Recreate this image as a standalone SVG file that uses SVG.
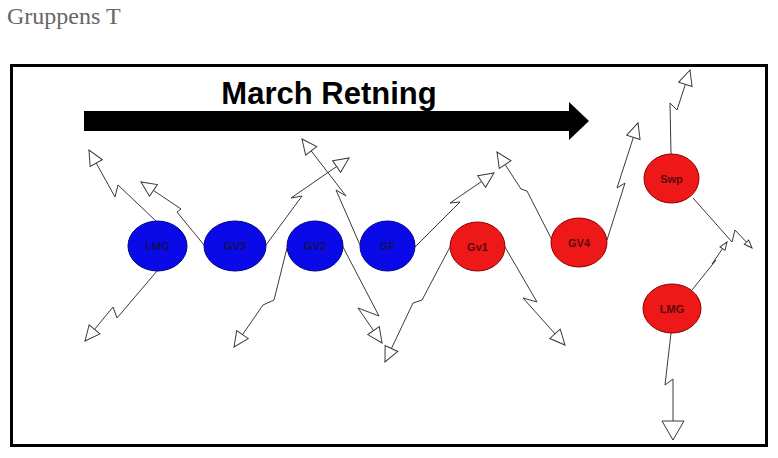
<svg xmlns="http://www.w3.org/2000/svg" width="778" height="458" viewBox="0 0 778 458">
<style>
.title{font-family:"Liberation Serif","Times New Roman",serif;font-size:24px;fill:#666}
.head{font-family:"Liberation Sans",Arial,sans-serif;font-size:31px;font-weight:bold;fill:#000}
.lbl{font-family:"Liberation Sans",Arial,sans-serif;font-size:11px;font-weight:bold;text-anchor:middle}
.blue ellipse{fill:#0a0ae8;stroke:#00008a;stroke-width:1}
.blue text{fill:#10105a}
.red ellipse{fill:#ee1818;stroke:#8a0000;stroke-width:1}
.red text{fill:#5a0808}
.bolt{fill:none;stroke:#3a3a3a;stroke-width:1;marker-end:url(#ah)}
.bolt.s{marker-end:url(#ahs)}
.bolt.b{marker-end:url(#ahb)}
</style>
<defs>
<marker id="ah" markerUnits="userSpaceOnUse" markerWidth="18" markerHeight="17" refX="16" refY="8" orient="auto" viewBox="0 0 18 17">
<path d="M1,1 L16,8 L1,15 Z" fill="#fff" stroke="#3a3a3a" stroke-width="1"/>
</marker>
<marker id="ahs" markerUnits="userSpaceOnUse" markerWidth="10" markerHeight="9" refX="9" refY="4" orient="auto" viewBox="0 0 10 9">
<path d="M1,1 L9,4 L1,7 Z" fill="#fff" stroke="#3a3a3a" stroke-width="1"/>
</marker>
<marker id="ahb" markerUnits="userSpaceOnUse" markerWidth="22" markerHeight="26" refX="20" refY="12" orient="auto" viewBox="0 0 22 26">
<path d="M1,1 L20,12 L1,23 Z" fill="#fff" stroke="#3a3a3a" stroke-width="1"/>
</marker>
</defs>
<rect width="778" height="458" fill="#fff"/>
<text class="title" x="7" y="24">Gruppens T</text>
<rect x="11.5" y="65.5" width="755" height="380" fill="#fff" stroke="#000" stroke-width="3"/>
<g id="march">
<polygon points="84,111 569,111 569,102 589,121 569,140 569,131 84,131" fill="#000"/>
<text class="head" x="329" y="104" text-anchor="middle">March Retning</text>
</g>
<g id="connectors">
<path class="bolt" d="M157,222 L118,185 L115,197 L89,150"/>
<path class="bolt" d="M204,245 L177,212 L181,209 L141,182"/>
<path class="bolt" d="M157,271 L117,318 L113,307 L85,341"/>
<path class="bolt" d="M266,245 L302,196 L291,198 L349,158"/>
<path class="bolt" d="M287,248 L274,300 L263,305 L234,347"/>
<path class="bolt" d="M360,245 L336,190 L346,196 L302,139"/>
<path class="bolt" d="M343,247 L379,316 L358,308 L382,343"/>
<path class="bolt" d="M450,247 L422,300 L413,303 L385,362"/>
<path class="bolt" d="M415,247 L460,202 L450,203 L494,173"/>
<path class="bolt" d="M505,247 L537,302 L523,298 L565,345"/>
<path class="bolt" d="M552,240 L527,191 L521,189 L497,152"/>
<path class="bolt" d="M607,240 L625,183 L617,188 L638,123"/>
<path class="bolt" d="M671,154 L670,103 L677,110 L690,70"/>
<path class="bolt s" d="M693,198 L732,242 L735,230 L752,248"/>
<path class="bolt s" d="M692,290 L716,260 L712,264 L727,242"/>
<path class="bolt b" d="M671,333 L665,385 L673,379 L673,440"/>
</g>
<g id="n-lmg1" class="blue"><ellipse cx="157.5" cy="246" rx="29.5" ry="25"/><text class="lbl" x="157.5" y="250">LMG</text></g>
<g id="n-gv3" class="blue"><ellipse cx="235" cy="246" rx="31" ry="25"/><text class="lbl" x="235" y="250">GV3</text></g>
<g id="n-gv2" class="blue"><ellipse cx="315" cy="246" rx="28" ry="25"/><text class="lbl" x="315" y="250">GV2</text></g>
<g id="n-gf" class="blue"><ellipse cx="387.5" cy="246" rx="27.5" ry="25"/><text class="lbl" x="387.5" y="250">GF</text></g>
<g id="n-gv1" class="red"><ellipse cx="477.5" cy="246.5" rx="27.5" ry="24.5"/><text class="lbl" x="477.5" y="250.5">Gv1</text></g>
<g id="n-gv4" class="red"><ellipse cx="579" cy="242.5" rx="28" ry="24.5"/><text class="lbl" x="579" y="246.5">GV4</text></g>
<g id="n-swp" class="red"><ellipse cx="671.5" cy="178.5" rx="27.5" ry="24.5"/><text class="lbl" x="671.5" y="182.5">Swp</text></g>
<g id="n-lmg2" class="red"><ellipse cx="672" cy="308.5" rx="29" ry="24.5"/><text class="lbl" x="672" y="312.5">LMG</text></g>
</svg>
